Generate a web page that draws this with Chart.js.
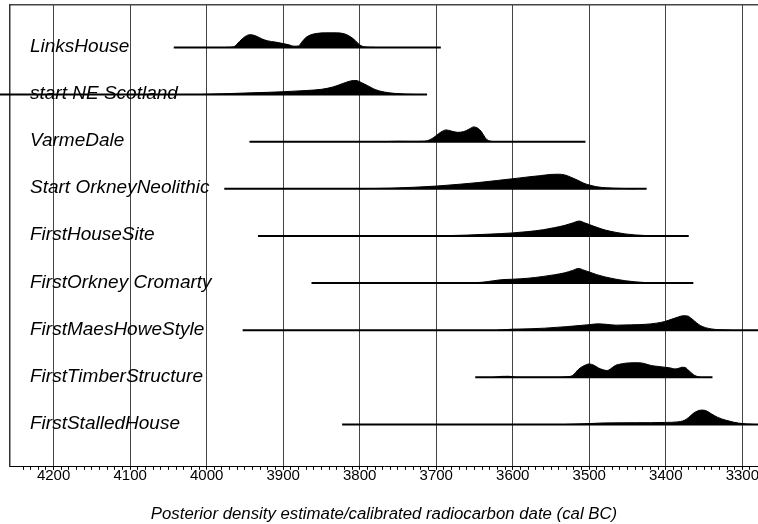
<!DOCTYPE html>
<html>
<head>
<meta charset="utf-8">
<title>Posterior density estimates</title>
<script src="https://cdn.jsdelivr.net/npm/chart.js@4.4.0/dist/chart.umd.min.js"></script>
<style>
  html, body { margin: 0; padding: 0; background: #fff; }
  #wrap { width: 758px; height: 524px; }
</style>
</head>
<body>
<div id="wrap"><canvas id="chart"></canvas></div>
<script>
// one row per modelled event, top to bottom
const rowLabels = ['LinksHouse', 'start NE Scotland', 'VarmeDale', 'Start OrkneyNeolithic', 'FirstHouseSite',
    'FirstOrkney Cromarty', 'FirstMaesHoweStyle', 'FirstTimberStructure', 'FirstStalledHouse'];

// horizontal range bars (cal BC)
const rangeFrom = [4043, 4271, 3944, 3977, 3933, 3863, 3953, 3649, 3823];
const rangeTo = [3694, 3712, 3505, 3425, 3370, 3364, 3260, 3339, 3260];

// density outlines: years (cal BC) and relative height (peak ~15)
const linksYears = [3975, 3965, 3957, 3950, 3943, 3936, 3928, 3920, 3910, 3900, 3892, 3886, 3880, 3875, 3870, 3864, 3855, 3845, 3830, 3820, 3812, 3806, 3800, 3793, 3780];
const linksDens = [0, 0.5, 6, 10.7, 12.7, 11.5, 8.5, 6.5, 5.3, 3.8, 2.5, 1.2, 1.5, 6, 10, 12.5, 14, 14.5, 14.5, 13.5, 10.5, 7, 2.5, 0.5, 0];

const neScotYears = [4010, 3980, 3950, 3920, 3900, 3870, 3850, 3835, 3822, 3812, 3805, 3798, 3790, 3780, 3768, 3755, 3740, 3725];
const neScotDens = [0, 0.7, 1.5, 2.2, 2.8, 4, 5.2, 7.5, 11, 13.5, 14, 12, 9, 5, 2.5, 1.2, 0.4, 0];

const varmeYears = [3770, 3750, 3730, 3715, 3708, 3700, 3694, 3687, 3680, 3672, 3664, 3657, 3651, 3646, 3641, 3636, 3631, 3620];
const varmeDens = [0, 0.4, 0.3, 0.5, 2, 6, 9.5, 11.7, 10.5, 9.3, 10, 12.5, 14.7, 13.5, 10, 4, 0.8, 0];

const orkneyYears = [3800, 3760, 3730, 3700, 3670, 3645, 3620, 3600, 3580, 3565, 3550, 3540, 3532, 3524, 3515, 3507, 3500, 3490, 3478, 3460, 3440];
const orkneyDens = [0, 0.6, 1.5, 2.7, 4.5, 6.2, 8.3, 10, 11.8, 13, 14.3, 14.5, 13.8, 11.5, 8.5, 5.5, 3.8, 2, 1, 0.4, 0];

const houseYears = [3700, 3660, 3630, 3600, 3580, 3560, 3545, 3532, 3522, 3513, 3506, 3500, 3490, 3479, 3465, 3453, 3440, 3425, 3410];
const houseDens = [0, 0.8, 1.8, 3, 4.3, 6.2, 8.3, 10.5, 12.8, 14.8, 13, 11.3, 8.5, 5.8, 3.5, 2, 1, 0.3, 0];

const cromartyYears = [3660, 3640, 3625, 3615, 3600, 3580, 3560, 3545, 3532, 3522, 3514, 3507, 3500, 3490, 3479, 3465, 3453, 3440, 3425, 3410];
const cromartyDens = [0, 0.8, 2.3, 3.3, 3.8, 4.8, 6.6, 8.3, 10.2, 12.5, 14.5, 12.8, 11, 8.3, 6, 3.8, 2.3, 1.2, 0.4, 0];

const maesHoweYears = [3620, 3600, 3580, 3558, 3530, 3510, 3500, 3488, 3478, 3465, 3445, 3427, 3412, 3401, 3392, 3384, 3378, 3372, 3366, 3360, 3355, 3348, 3340, 3330, 3315];
const maesHoweDens = [0, 1, 1.3, 2, 3.5, 4.8, 5.5, 6.3, 5.8, 5, 5.3, 5.8, 7, 8.7, 11, 13, 14.3, 14.2, 11.3, 7.5, 4.7, 2.5, 1.2, 0.4, 0];

const timberYears = [3625, 3615, 3605, 3595, 3540, 3530, 3522, 3514, 3507, 3500, 3494, 3488, 3482, 3477, 3472, 3466, 3457, 3449, 3440, 3432, 3425, 3419, 3410, 3401, 3394, 3388, 3383, 3379, 3374, 3370, 3366, 3362, 3355];
const timberDens = [0, 0.9, 1, 0, 0, 0.5, 1.7, 8, 11.5, 13.3, 12, 9.3, 7.5, 6.7, 8.5, 11.7, 13.5, 14.3, 14.5, 14.3, 13, 11.7, 10.8, 10, 9.3, 8.3, 9, 10, 9.5, 6.7, 4, 1.7, 0];

const stalledYears = [3530, 3500, 3480, 3440, 3400, 3385, 3376, 3370, 3364, 3358, 3353, 3347, 3340, 3332, 3322, 3312, 3305, 3295, 3285];
const stalledDens = [0, 0.8, 1.5, 1.7, 2, 2.5, 4, 7, 11, 13.5, 14.3, 13.5, 10.3, 7, 4.3, 2.3, 1.3, 0.5, 0];

const densityYears = [linksYears, neScotYears, varmeYears, orkneyYears, houseYears, cromartyYears, maesHoweYears, timberYears, stalledYears];
const densityValues = [linksDens, neScotDens, varmeDens, orkneyDens, houseDens, cromartyDens, maesHoweDens, timberDens, stalledDens];

const DENS_MAX = 15;      // relative units of the peak
const PEAK_HEIGHT = 0.32; // fraction of a row
const rowBase = i => 8.9 - i;

const datasets = [];
rowLabels.forEach((label, i) => {
    const base = rowBase(i);
    datasets.push({
        label: label + ' range',
        data: [{ x: rangeFrom[i], y: base }, { x: rangeTo[i], y: base }],
        borderColor: '#000',
        borderWidth: 2,
        pointRadius: 0,
        fill: false,
        clip: false,
    });
    datasets.push({
        label: label,
        data: densityYears[i].map((yr, k) => ({ x: yr, y: base + densityValues[i][k] / DENS_MAX * PEAK_HEIGHT })),
        borderColor: '#000',
        backgroundColor: '#000',
        borderWidth: 1,
        pointRadius: 0,
        cubicInterpolationMode: 'monotone',
        fill: { value: base },
    });
});

// names written inside the plot, just above each bar
const rowLabelPlugin = {
    id: 'rowLabels',
    afterDatasetsDraw(chart) {
        const { ctx, chartArea, scales: { y } } = chart;
        ctx.save();
        ctx.font = 'italic 19px "Liberation Sans", Arial, sans-serif';
        ctx.fillStyle = '#000';
        ctx.textBaseline = 'alphabetic';
        ctx.textAlign = 'left';
        rowLabels.forEach((label, i) => {
            ctx.fillText(label, chartArea.left + 20, y.getPixelForValue(rowBase(i)) + 4.5);
        });
        ctx.restore();
    }
};

Chart.defaults.font.family = '"Liberation Sans", Arial, sans-serif';

const X_MIN = 3279.5;
const X_MAX = 4257;

new Chart(document.getElementById('chart').getContext('2d'), {
    type: 'line',
    data: { datasets: datasets },
    options: {
        responsive: true,
        maintainAspectRatio: false,
        animation: false,
        devicePixelRatio: 1,
        layout: { padding: { left: 10, top: 5, right: 0, bottom: 0 } },
        plugins: {
            legend: { display: false },
            tooltip: { enabled: false },
        },
        scales: {
            x: {
                type: 'linear',
                position: 'bottom',
                reverse: true,
                min: X_MIN,
                max: X_MAX,
                ticks: {
                    stepSize: 10,
                    autoSkip: false,
                    maxRotation: 0,
                    padding: -1,
                    color: '#000',
                    font: { size: 15, lineHeight: 1 },
                    callback: v => (v % 100 === 0 ? String(v) : ''),
                },
                grid: {
                    color: c => (c.tick && c.tick.value % 100 === 0 ? '#444' : 'rgba(0,0,0,0)'),
                    tickColor: c => (c.tick && c.tick.value % 10 === 0 ? '#000' : 'rgba(0,0,0,0)'),
                    tickLength: 3,
                    lineWidth: 1,
                },
                border: { color: '#000', width: 1 },
                title: {
                    display: true,
                    text: 'Posterior density estimate/calibrated radiocarbon date (cal BC)',
                    color: '#000',
                    font: { size: 16.8, style: 'italic' },
                    padding: { top: 21, bottom: 0 },
                },
            },
            xTop: {
                type: 'linear',
                position: 'top',
                reverse: true,
                min: X_MIN,
                max: X_MAX,
                ticks: { display: false },
                grid: { display: false, drawTicks: false },
                border: { color: '#444', width: 1.5 },
            },
            y: {
                type: 'linear',
                min: 0,
                max: 9.8,
                ticks: { display: false },
                grid: { display: false, drawTicks: false },
                border: { color: '#333', width: 1.5 },
            },
        },
    },
    plugins: [rowLabelPlugin],
});
</script>
</body>
</html>
